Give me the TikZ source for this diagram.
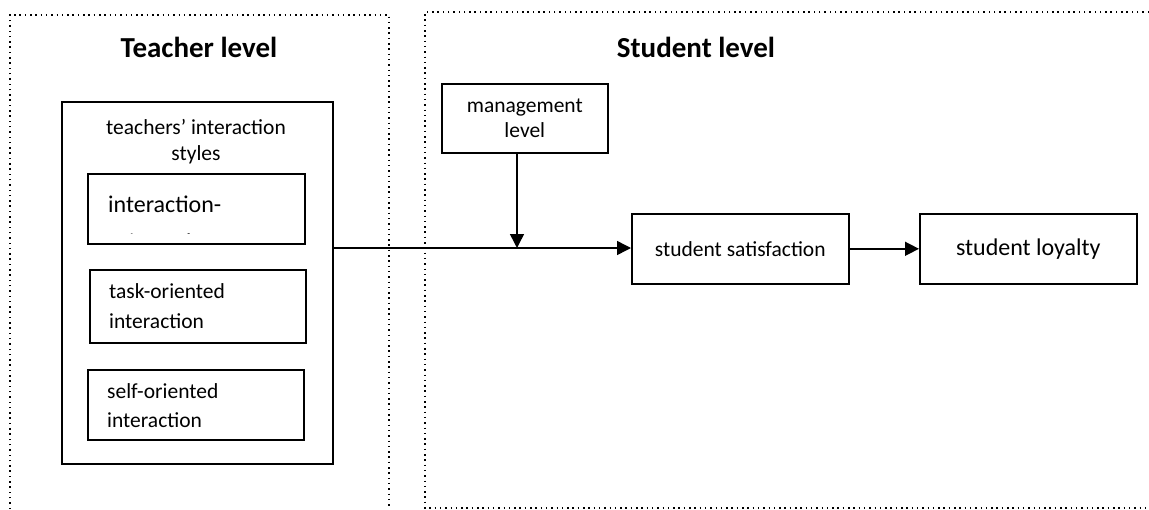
\documentclass[tikz,border=0pt]{standalone}
\usepackage{fontspec}
\setmainfont{Carlito}
\usetikzlibrary{arrows.meta,calc}
\begin{document}
\begin{tikzpicture}[x=1pt,y=-1pt,
  frame/.style={line width=1.3pt, dash pattern=on 1.5pt off 3.8pt},
  box/.style={draw, line width=1.6pt, anchor=north west, inner sep=0pt},
  lvl/.style={font=\bfseries\fontsize{29}{34}\selectfont},
  txt/.style={font=\fontsize{21.5}{25}\selectfont, align=center},
  ltxt/.style={font=\fontsize{21.5}{30}\selectfont, align=left, anchor=base west, inner sep=0pt},
  arr/.style={line width=1.5pt, -{Triangle[length=14pt,width=14pt]}}
]
\useasboundingbox (0,0) rectangle (1149,509);
% level frames
\draw[frame] (10,509) -- (10,15) -- (389,15) -- (389,509);
\draw[frame] (1149,12) -- (425,12) -- (425,508) -- (1149,508);
\node[lvl] (tl) at (199,47) {Teacher level};
\node[lvl] (sl) at (696,47) {Student level};
% teachers' interaction styles
\node[box, minimum width=271pt, minimum height=362pt] (tis) at (61,101) {};
\node[txt, font=\fontsize{21.5}{26}\selectfont] (tist) at (196,142) {teachers’ interaction\\styles};
\node[box, minimum width=217pt, minimum height=70pt] (b1) at (87,173) {};
\begin{scope}
  \clip (87,173) rectangle (304,233);
  \node[ltxt, font=\fontsize{24}{38}\selectfont] (b1t) at (108,250.5) {interaction-\\oriented};
\end{scope}
\node[box, minimum width=216pt, minimum height=73pt] (b2) at (89,269) {};
\node[ltxt] (b2t) at (109,328) {task-oriented\\interaction};
\node[box, minimum width=216pt, minimum height=70pt] (b3) at (87,369) {};
\node[ltxt, font=\fontsize{21.5}{29}\selectfont] (b3t) at (107,427) {self-oriented\\interaction};
% student level
\node[box, minimum width=166pt, minimum height=69pt, txt] (mg) at (441,83) {management\\level};
\node[box, minimum width=217pt, minimum height=70pt, txt] (sat) at (631,213) {student satisfaction};
\node[box, minimum width=217pt, minimum height=70pt, txt, font=\fontsize{24}{29}\selectfont] (loy) at (919,213) {student loyalty};
\coordinate (j) at (517,248);
\draw[arr] (mg.south -| j) -- (j);
\draw[line width=1.5pt] (tis.east |- j) -- (j);
\draw[arr] (j) -- (sat.west |- j);
\draw[arr] (sat.east) -- (loy.west);
\end{tikzpicture}
\end{document}
